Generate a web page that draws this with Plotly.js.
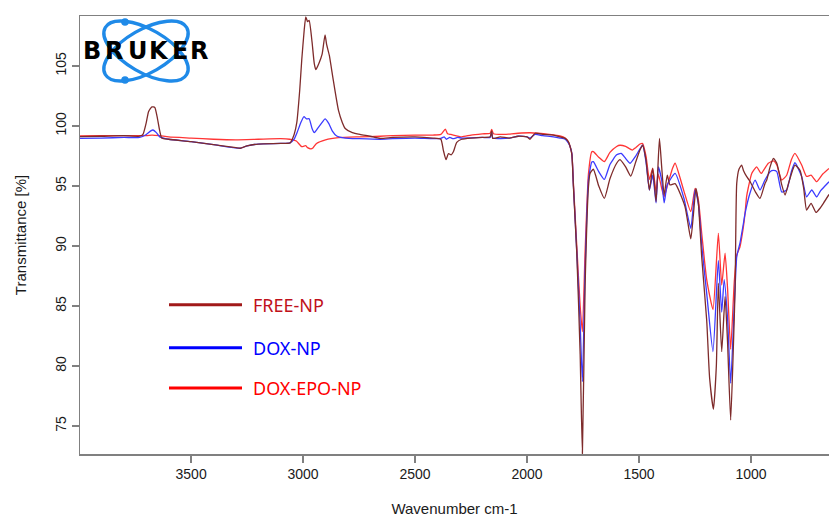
<!DOCTYPE html>
<html>
<head>
<meta charset="utf-8">
<script src="https://cdn.plot.ly/plotly-3.0.1.min.js"></script>
<style>html,body{margin:0;padding:0;background:#fff;}#chart{width:829px;height:517px;}</style>
</head>
<body>
<div id="chart"></div>
<script>
// ---- data (wavenumber cm-1, transmittance %) ----
const seriesNames = ["FREE-NP", "DOX-NP", "DOX-EPO-NP"];

const wnFree = [3996,3900,3800,3730,3715,3700,3690,3675,3662,3652,3640,3631,3600,3500,3400,3300,3280,3250,3200,3100,3058,3040,3028,3015,3006,2995,2988,2980,2973,2960,2950,2943,2930,2915,2902,2895,2883,2865,2842,2825,2812,2780,2746,2700,2656,2600,2500,2420,2385,2374,2362,2351,2339,2329,2314,2292,2250,2200,2165,2158,2153,2120,2080,2040,2000,1987,1964,1930,1882,1853,1830,1816,1808,1800,1793,1778,1763,1753,1741,1726,1719,1704,1680,1655,1630,1600,1585,1560,1537,1515,1496,1484,1469,1454,1439,1424,1409,1399,1388,1374,1362,1339,1295,1269,1258,1246,1235,1220,1198,1185,1168,1155,1146,1131,1116,1105,1091,1080,1071,1064,1054,1042,1034,1020,1005,980,960,938,930,915,900,885,863,848,833,815,804,781,765,752,732,710,690,677,652];
const tFree = [99.12,99.15,99.2,99.15,99.3,100.3,101.2,101.6,101.55,100.8,99.6,99.0,98.9,98.7,98.45,98.2,98.15,98.35,98.5,98.55,98.6,99.3,100.3,103.0,105.5,108.0,109.1,108.7,108.8,107.0,105.2,104.7,105.2,106.0,107.6,106.8,105.9,103.8,101.3,100.3,99.8,99.45,99.3,99.15,98.97,99.05,99.1,99.0,98.9,98.0,97.2,97.7,97.6,97.86,98.64,98.9,99.0,99.05,99.1,99.6,98.97,99.1,99.0,99.15,99.1,98.9,99.4,99.3,99.25,99.1,98.97,98.7,98.3,97.6,94.9,89.4,81.0,72.7,86.6,94.9,96.05,96.4,95.0,93.97,95.6,96.9,97.2,96.6,95.83,97.0,98.0,98.4,97.17,94.67,96.47,93.7,98.97,96.6,94.25,95.9,95.1,95.2,93.3,90.6,92.5,94.8,93.5,89.0,83.8,79.0,76.4,80.0,86.9,81.2,85.8,82.0,75.5,81.0,86.6,95.2,96.4,96.75,96.3,95.8,95.4,94.5,93.97,95.2,95.5,96.6,97.3,96.9,95.1,94.25,95.2,96.3,96.75,96.3,94.8,93.0,93.56,92.8,93.2,93.56,94.3];

const wnDox = [3996,3900,3800,3730,3700,3680,3670,3655,3640,3600,3500,3400,3280,3250,3200,3100,3058,3040,3028,3010,2996,2985,2973,2960,2950,2935,2915,2902,2885,2870,2850,2812,2750,2656,2600,2500,2420,2385,2370,2360,2345,2330,2310,2292,2200,2165,2158,2153,2080,2040,2000,1987,1964,1930,1882,1853,1830,1816,1808,1800,1793,1778,1763,1753,1741,1726,1711,1704,1680,1655,1630,1600,1580,1560,1540,1515,1496,1484,1469,1454,1439,1424,1414,1399,1388,1374,1339,1300,1269,1250,1235,1220,1198,1170,1146,1131,1120,1105,1091,1075,1064,1057,1050,1034,1027,1005,982,960,938,915,900,885,863,841,820,804,774,752,729,707,690,670,652];
const tDox = [98.98,99.0,99.05,99.05,99.3,99.6,99.67,99.45,99.1,98.9,98.7,98.45,98.15,98.35,98.5,98.55,98.6,98.9,99.4,100.3,100.78,100.6,100.6,99.8,99.45,99.8,100.3,100.6,100.2,99.6,99.17,99.0,98.95,98.9,98.95,99.0,98.95,98.97,99.1,98.9,99.05,98.95,99.05,99.0,99.05,99.05,99.5,99.0,99.0,99.15,99.1,99.0,99.3,99.2,99.1,99.0,98.9,98.6,98.3,97.7,95.0,89.5,83.5,78.7,88.0,95.5,97.0,97.03,96.2,95.55,96.8,97.6,97.72,97.3,96.9,97.5,98.1,98.4,97.0,94.67,95.9,93.6,96.6,95.5,93.6,95.1,96.05,94.0,91.47,94.67,93.5,90.0,86.06,81.2,88.8,84.5,87.2,84.0,78.56,85.0,89.1,89.7,90.2,91.9,92.7,94.4,95.5,94.67,95.5,96.2,96.3,96.2,94.5,94.67,96.2,96.94,95.8,94.1,94.67,94.1,94.6,95.0,95.36];

const wnEpo = [3996,3900,3800,3700,3675,3640,3600,3500,3400,3300,3200,3100,3060,3030,3006,2988,2980,2965,2955,2940,2900,2842,2750,2656,2600,2500,2420,2385,2365,2355,2340,2292,2250,2200,2165,2158,2150,2100,2080,2040,1987,1950,1900,1853,1830,1816,1808,1800,1793,1778,1763,1753,1741,1726,1711,1704,1680,1655,1630,1600,1585,1560,1530,1515,1496,1484,1469,1454,1439,1424,1414,1399,1388,1374,1350,1339,1300,1269,1250,1235,1220,1198,1170,1146,1131,1116,1105,1091,1075,1064,1050,1035,1027,1020,1012,997,975,955,923,900,885,863,841,820,804,774,752,732,707,680,652];
const tEpo = [99.17,99.2,99.2,99.2,99.25,99.2,99.1,99.0,98.9,98.85,98.9,98.95,98.9,98.75,98.28,98.36,98.2,98.1,98.2,98.55,98.85,99.03,99.1,99.15,99.2,99.25,99.25,99.3,99.75,99.35,99.3,99.1,99.25,99.35,99.4,99.72,99.35,99.3,99.33,99.4,99.44,99.4,99.3,99.17,99.0,98.7,98.3,97.7,95.2,90.0,85.0,82.86,89.5,96.0,97.86,97.86,97.4,97.03,97.8,98.3,98.4,98.3,98.0,98.2,98.5,98.55,97.5,95.55,96.5,94.5,96.0,94.8,94.1,95.0,96.5,96.9,94.6,92.86,94.8,93.8,91.0,87.2,84.7,91.06,86.75,89.4,86.5,81.4,87.0,89.25,89.9,91.5,92.7,94.1,94.9,96.05,96.6,96.05,96.9,97.1,96.75,95.5,95.9,97.2,97.72,96.75,95.8,95.9,95.36,96.0,96.47];

const xTicks = [3500, 3000, 2500, 2000, 1500, 1000];
const yTicks = [75, 80, 85, 90, 95, 100, 105];
const xRange = [3996, 652];
const yRange = [72.67, 109.17];

// ---- styling ----
const lineColors = ["#7e2b2b", "#3b3bff", "#ff3535"];
const legendLineColors = ["#a11a1a", "#0000ff", "#ff0000"];
const legendTextColors = ["#c0111b", "#0000ff", "#ff0000"];

// pixel -> paper helpers (plot area: x 80..829, y 16..454)
const L = 80, R = 829, T = 16, B = 454;
const px = x => (x - L) / (R - L);
const py = y => (B - y) / (B - T);

const traces = [
  {x: wnFree, y: tFree}, {x: wnDox, y: tDox}, {x: wnEpo, y: tEpo}
].map((d, i) => ({
  type: "scatter", mode: "lines", x: d.x, y: d.y, name: seriesNames[i],
  line: {color: lineColors[i], width: 1.3, shape: "spline", smoothing: 0.5},
  showlegend: false, hoverinfo: "x+y+name"
}));
const ordered = [traces[2], traces[1], traces[0]];

const shapes = [];
const annotations = [];
const legY = [304.7, 347.7, 388];
seriesNames.forEach((n, i) => {
  shapes.push({type: "line", xref: "paper", yref: "paper",
    x0: px(169), x1: px(242), y0: py(legY[i]), y1: py(legY[i]),
    line: {color: legendLineColors[i], width: 3}});
  annotations.push({xref: "paper", yref: "paper", x: px(251), y: py(legY[i]),
    xanchor: "left", yanchor: "middle", showarrow: false, text: n,
    font: {family: "Noto Sans, Open Sans, sans-serif", size: 18, color: legendTextColors[i]}});
});

// Bruker logo: ellipses as an SVG image, letters as real text
const logoSvg = "<svg xmlns='http://www.w3.org/2000/svg' width='100' height='70' viewBox='0 0 100 70'>" +
  "<g fill='none' stroke='#1f8ae8' stroke-width='3.4'>" +
  "<ellipse cx='50' cy='35' rx='47' ry='21.5' transform='rotate(30 50 35)'/>" +
  "<ellipse cx='50' cy='35' rx='47' ry='21.5' transform='rotate(-30 50 35)'/></g>" +
  "<circle cx='29' cy='6' r='3.8' fill='#1f8ae8'/><circle cx='29' cy='64' r='3.8' fill='#1f8ae8'/></svg>";
const images = [{
  source: "data:image/svg+xml;charset=utf-8," + encodeURIComponent(logoSvg),
  xref: "paper", yref: "paper", x: px(96), y: py(16),
  sizex: 100 / (R - L), sizey: 70 / (B - T), xanchor: "left", yanchor: "top",
  sizing: "stretch", layer: "above"
}];
const logoLetters = ["B", "R", "U", "K", "E", "R"];
const letterX = [91.5, 114, 137.5, 159, 179.5, 199];
logoLetters.forEach((c, i) => {
  annotations.push({xref: "paper", yref: "paper", x: px(letterX[i]), y: py(51),
    xanchor: "center", yanchor: "middle", showarrow: false, text: "<b>" + c + "</b>",
    font: {family: "DejaVu Sans, Liberation Sans, sans-serif", size: 24, color: "#000"}});
});

const axisCommon = {
  showline: true, linecolor: "#808080", linewidth: 1.5,
  ticks: "outside", ticklen: 7, tickwidth: 1.5, tickcolor: "#808080",
  showgrid: false, zeroline: false,
  tickfont: {family: "Liberation Sans, Arial, sans-serif", size: 14, color: "#1a1a1a"}
};

const layout = {
  width: 829, height: 517,
  margin: {l: L, r: 829 - R, t: T, b: 517 - B},
  paper_bgcolor: "#fff", plot_bgcolor: "#fff",
  showlegend: false,
  xaxis: Object.assign({}, axisCommon, {
    range: xRange, tickmode: "array", tickvals: xTicks, ticktext: xTicks.map(String),
    mirror: true,
    title: {text: "Wavenumber cm-1", standoff: 23,
      font: {family: "Liberation Sans, Arial, sans-serif", size: 15, color: "#1a1a1a"}}
  }),
  yaxis: Object.assign({}, axisCommon, {
    range: yRange, tickmode: "array", tickvals: yTicks, ticktext: yTicks.map(String),
    tickangle: -90,
    title: {text: "Transmittance [%]", standoff: 22,
      font: {family: "Liberation Sans, Arial, sans-serif", size: 15, color: "#1a1a1a"}}
  }),
  shapes: shapes, annotations: annotations, images: images
};

Plotly.newPlot("chart", ordered, layout, {displayModeBar: false, staticPlot: true});
</script>
</body>
</html>
